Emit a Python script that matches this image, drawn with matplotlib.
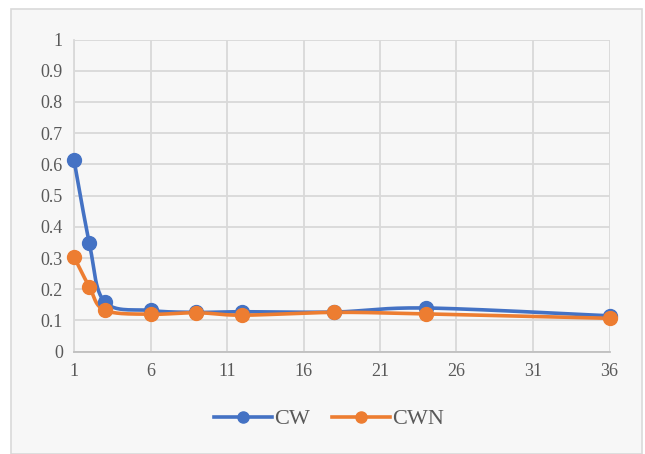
import numpy as np
import matplotlib.pyplot as plt
from matplotlib.patches import Rectangle

# data
months = [1, 2, 3, 6, 9, 12, 18, 24, 36]
cw = [0.614, 0.349, 0.160, 0.132, 0.126, 0.128, 0.127, 0.140, 0.115]
cwn = [0.304, 0.208, 0.133, 0.120, 0.125, 0.117, 0.126, 0.121, 0.107]
x_ticks = [1, 6, 11, 16, 21, 26, 31, 36]
y_ticks = [0, 0.1, 0.2, 0.3, 0.4, 0.5, 0.6, 0.7, 0.8, 0.9, 1]


def smooth(xs, ys, n=30):
    # Bezier smoothing through the points, like a spreadsheet "smoothed line"
    xs = np.asarray(xs, float)
    ys = np.asarray(ys, float)
    px, py = [], []
    for i in range(len(xs) - 1):
        x0, y0 = xs[max(i - 1, 0)], ys[max(i - 1, 0)]
        x1, y1 = xs[i], ys[i]
        x2, y2 = xs[i + 1], ys[i + 1]
        x3, y3 = xs[min(i + 2, len(xs) - 1)], ys[min(i + 2, len(xs) - 1)]
        c1x, c1y = x1 + (x2 - x0) / 6, y1 + (y2 - y0) / 6
        c2x, c2y = x2 - (x3 - x1) / 6, y2 - (y3 - y1) / 6
        t = np.linspace(0, 1, n)
        px.extend((1-t)**3*x1 + 3*(1-t)**2*t*c1x + 3*(1-t)*t**2*c2x + t**3*x2)
        py.extend((1-t)**3*y1 + 3*(1-t)**2*t*c1y + 3*(1-t)*t**2*c2y + t**3*y2)
    return px, py


plt.rcParams['font.family'] = ['Liberation Serif', 'DejaVu Serif']

fig = plt.figure(figsize=(6.45, 4.54), dpi=100)
fig.patch.set_facecolor('white')
fig.patches.append(Rectangle((11/645, 0), 631/645, 445/454, transform=fig.transFigure,
                             facecolor='#f7f7f7', edgecolor='#d9d9d9', lw=1.2, zorder=-1))

ax = fig.add_axes([74/645, 102.3/454, 535.5/645, 312.2/454])
ax.set_facecolor('#f7f7f7')

blue = '#4472C4'
orange = '#ED7D31'
for ys, c, name in [(cw, blue, 'CW'), (cwn, orange, 'CWN')]:
    sx, sy = smooth(months, ys)
    ax.plot(sx, sy, color=c, lw=2.6, solid_capstyle='round', zorder=3, clip_on=False)
    ax.plot(months, ys, 'o', color=c, ms=10, zorder=4, clip_on=False)
    ax.plot([], [], '-o', color=c, lw=2.6, ms=8, label=name)

ax.set_xlim(1, 36)
ax.set_ylim(0, 1)
ax.set_xticks(x_ticks)
ax.set_yticks(y_ticks)
ax.set_yticklabels(['0', '0.1', '0.2', '0.3', '0.4', '0.5', '0.6', '0.7', '0.8', '0.9', '1'])
ax.grid(True, color='#d9d9d9', lw=1.3)
ax.set_axisbelow(True)
for s in ['top', 'right']:
    ax.spines[s].set_visible(False)
ax.spines['left'].set_color('#d9d9d9')
ax.spines['left'].set_linewidth(1.3)
ax.spines['bottom'].set_color('#bfbfbf')
ax.spines['bottom'].set_linewidth(1.3)
ax.tick_params(length=0, labelsize=13, labelcolor='#595959', pad=8)

fig.legend(loc='center', bbox_to_anchor=(0.51, (454-419)/454), ncol=2, frameon=False,
           fontsize=16, labelcolor='#595959', handlelength=2.6, handletextpad=0.1,
           columnspacing=1.0)

fig.savefig('out.png', dpi=100, facecolor='white')
